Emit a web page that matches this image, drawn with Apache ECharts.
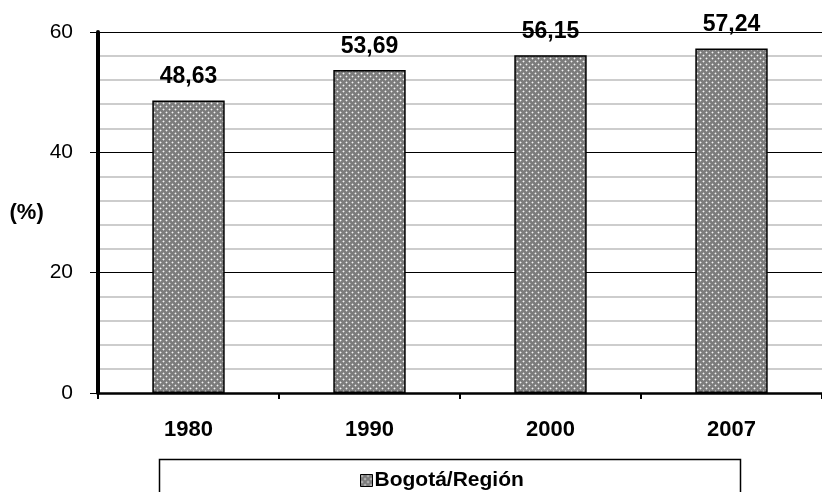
<!DOCTYPE html>
<html><head><meta charset="utf-8">
<script src="https://cdn.jsdelivr.net/npm/echarts@6/dist/echarts.min.js"></script>
<style>html,body{margin:0;padding:0;background:#fff}#c{width:822px;height:492px}</style>
</head><body><div id="c"></div>
<script>
const categories = ['1980', '1990', '2000', '2007'];
const values = [48.63, 53.69, 56.15, 57.24];
const seriesName = 'Bogotá/Región';
const yTicks = [0, 20, 40, 60];

function makePattern() {
  const c = document.createElement('canvas');
  c.width = 6; c.height = 6;
  const ctx = c.getContext('2d');
  ctx.fillStyle = '#7c7c7c';
  ctx.fillRect(0, 0, 6, 6);
  ctx.fillStyle = '#a8a8a8';
  ctx.fillRect(0, 1, 3, 1); ctx.fillRect(1, 0, 1, 3);
  ctx.fillRect(3, 4, 3, 1); ctx.fillRect(4, 3, 1, 3);
  ctx.fillStyle = '#f4f4f4';
  ctx.fillRect(1, 1, 1, 1);
  ctx.fillRect(4, 4, 1, 1);
  return c;
}
const pattern = { image: makePattern(), repeat: 'repeat' };
const FONT = "'Liberation Sans', Arial, sans-serif";

const chart = echarts.init(document.getElementById('c'), null, { renderer: 'canvas' });
chart.setOption({
  animation: false,
  backgroundColor: '#fff',
  textStyle: { fontFamily: FONT },
  grid: { left: 98, right: -4, top: 32, bottom: 99, containLabel: false },
  legend: {
    data: [seriesName],
    left: 355, top: 465,
    icon: 'rect', itemWidth: 12, itemHeight: 12, itemGap: 0,
    textStyle: { fontFamily: FONT, fontSize: 21, fontWeight: 'bold', color: '#000', padding: [0, 0, 0, -3] },
    itemStyle: { borderColor: '#000', borderWidth: 1 }
  },
  graphic: [{
    type: 'rect', left: 157, top: 457, silent: true, z: -1,
    shape: { width: 581, height: 60 },
    style: { fill: 'none', stroke: '#000', lineWidth: 1.5 }
  }],
  xAxis: {
    type: 'category', data: categories,
    axisLine: { lineStyle: { color: '#000', width: 2.5 } },
    axisTick: { show: true, length: 6, alignWithLabel: false, lineStyle: { color: '#000', width: 2 } },
    axisLabel: { fontFamily: FONT, fontSize: 22, fontWeight: 'bold', color: '#000', margin: 26 },
    splitLine: { show: false }
  },
  yAxis: {
    type: 'value', min: yTicks[0], max: yTicks[yTicks.length - 1], interval: 20,
    name: '(%)', nameLocation: 'middle', nameRotate: 0, nameGap: 50,
    nameTextStyle: { fontFamily: FONT, fontSize: 22, fontWeight: 'bold', color: '#000' },
    axisLine: { show: true, onZero: false, lineStyle: { color: '#000', width: 4 } },
    axisTick: { show: true, length: 8, lineStyle: { color: '#000', width: 1 } },
    axisLabel: { fontFamily: FONT, fontSize: 21, color: '#000', margin: 25 },
    splitLine: { show: true, lineStyle: { color: '#000', width: 1.2 } },
    minorTick: { show: false, splitNumber: 5 },
    minorSplitLine: { show: true, lineStyle: { color: '#bdbdbd', width: 1.5 } }
  },
  series: [{
    name: seriesName, type: 'bar', data: values, barWidth: '40%',
    itemStyle: { color: pattern, borderColor: '#000', borderWidth: 1.5 },
    label: {
      show: true, position: 'top', distance: 12,
      formatter: p => p.value.toFixed(2).replace('.', ','),
      fontFamily: FONT, fontSize: 23, fontWeight: 'bold', color: '#000'
    }
  }]
});
</script></body></html>
